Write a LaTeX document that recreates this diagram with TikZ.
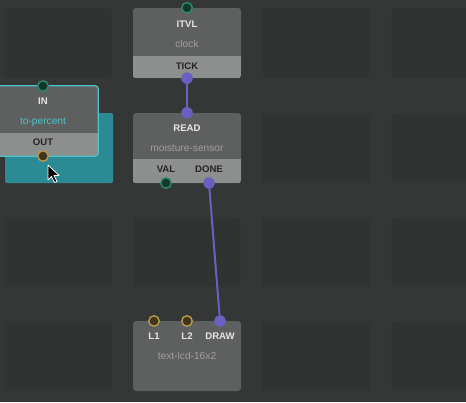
\documentclass[tikz,border=0pt]{standalone}
\usepackage{fontspec}
\setmainfont{Liberation Sans}
\usetikzlibrary{positioning,calc}
\definecolor{bgcolor}{HTML}{353737}
\definecolor{cellcolor}{HTML}{313333}
\definecolor{celledge}{HTML}{3C3E3E}
\definecolor{bodycolor}{HTML}{5E5F5F}
\definecolor{stripcolor}{HTML}{8D8E8E}
\definecolor{pulsecolor}{HTML}{6A60C2}
\definecolor{numcolor}{HTML}{2E8C6E}
\definecolor{strcolor}{HTML}{B89A4E}
\definecolor{selcolor}{HTML}{4CC3C9}
\definecolor{dropcolor}{HTML}{2C8A94}

\begin{document}
\begin{tikzpicture}[x=1pt, y=-1pt,
        cell/.style={draw=celledge, fill=cellcolor, rounded corners=2pt},
        patch/.style={rectangle, rounded corners=3pt, fill=bodycolor, minimum width=108pt, minimum height=70pt, inner sep=0pt},
        title/.style={font=\bfseries\fontsize{9.6}{11}\selectfont, text=white!90!black, inner sep=1pt},
        kind/.style={font=\fontsize{10.2}{12}\selectfont, text=gray!75, inner sep=1pt},
        term/.style={font=\bfseries\fontsize{9.6}{11}\selectfont, text=black!85, inner sep=1pt},
        pulsepin/.style={circle, fill=pulsecolor, minimum size=11.5pt, inner sep=0pt},
        numpin/.style={circle, draw=numcolor, line width=1.4pt, fill=black!60!numcolor, minimum size=10.5pt, inner sep=0pt},
        strpin/.style={circle, draw=strcolor, line width=1.4pt, fill=black!65!strcolor, minimum size=10.5pt, inner sep=0pt},
        link/.style={draw=pulsecolor, line width=2pt}
    ]

        % Canvas
        \fill[bgcolor] (0,0) rectangle (466,402);
        \useasboundingbox (0,0) rectangle (466,402);
        \foreach \cx in {4,133,262,391} {
            \foreach \cy in {8,113,217,321} {
                \draw[cell] (\cx,\cy) rectangle ++(108,70);
            }
        }
        \fill[dropcolor, rounded corners=2pt] (5,113) rectangle (113,183);

        % clock
        \node[patch] (clock) at (187,43) {};
        \begin{scope}
            \clip[rounded corners=3pt] (clock.south west) rectangle (clock.north east);
            \fill[stripcolor] (clock.south west) rectangle ([yshift=22pt]clock.south east);
        \end{scope}
        \node[title] (clockItvlLbl) at (187,24) {ITVL};
        \node[kind] (clockName) at (187,44) {clock};
        \node[term] (clockTickLbl) at (187,66) {TICK};
        \node[numpin] (clockItvl) at (clock.north) {};
        \node[pulsepin] (clockTick) at (clock.south) {};

        % moisture-sensor
        \node[patch] (sensor) at (187,148) {};
        \begin{scope}
            \clip[rounded corners=3pt] (sensor.south west) rectangle (sensor.north east);
            \fill[stripcolor] (sensor.south west) rectangle ([yshift=24pt]sensor.south east);
        \end{scope}
        \node[title] (sensorReadLbl) at (187,128) {READ};
        \node[kind] (sensorName) at (187,148) {moisture-sensor};
        \node[term] (sensorValLbl) at (166,169) {VAL};
        \node[term] (sensorDoneLbl) at (209,169) {DONE};
        \node[pulsepin] (sensorRead) at (sensor.north) {};
        \node[numpin] (sensorVal) at (166,183) {};
        \node[pulsepin] (sensorDone) at (209,183) {};

        % text-lcd-16x2
        \node[patch] (lcd) at (187,356) {};
        \node[title] (lcdL1Lbl) at (154,336) {L1};
        \node[title] (lcdL2Lbl) at (187,336) {L2};
        \node[title] (lcdDrawLbl) at (220,336) {DRAW};
        \node[kind] (lcdName) at (187,356) {text-lcd-16x2};
        \node[strpin] (lcdL1) at (154,321) {};
        \node[strpin] (lcdL2) at (187,321) {};
        \node[pulsepin] (lcdDraw) at (220,321) {};

        % to-percent (dragged)
        \node[patch] (percent) at (44,121) {};
        \begin{scope}
            \clip[rounded corners=3pt] (percent.south west) rectangle (percent.north east);
            \fill[stripcolor] (percent.south west) rectangle ([yshift=23pt]percent.south east);
        \end{scope}
        \draw[selcolor, line width=1.2pt, rounded corners=3pt] (percent.south west) rectangle (percent.north east);
        \node[title] (percentInLbl) at (43,101) {IN};
        \node[kind, text=selcolor] (percentName) at (43,122) {to-percent};
        \node[term] (percentOutLbl) at (43,142) {OUT};
        \node[numpin] (percentIn) at (43,86) {};
        \node[strpin] (percentOut) at (43,156) {};

        % Links
        \draw[link] (clockTick) -- (sensorRead);
        \draw[link] (sensorDone) -- (lcdDraw);

        % Cursor
        \filldraw[fill=black, draw=white, line width=0.8pt, line join=round]
            (48,165) -- (48,180) -- (51.5,176.5) -- (54.5,182.5) -- (57,181.5) -- (54,175.5) -- (59,175.5) -- cycle;

    \end{tikzpicture}
\end{document}
